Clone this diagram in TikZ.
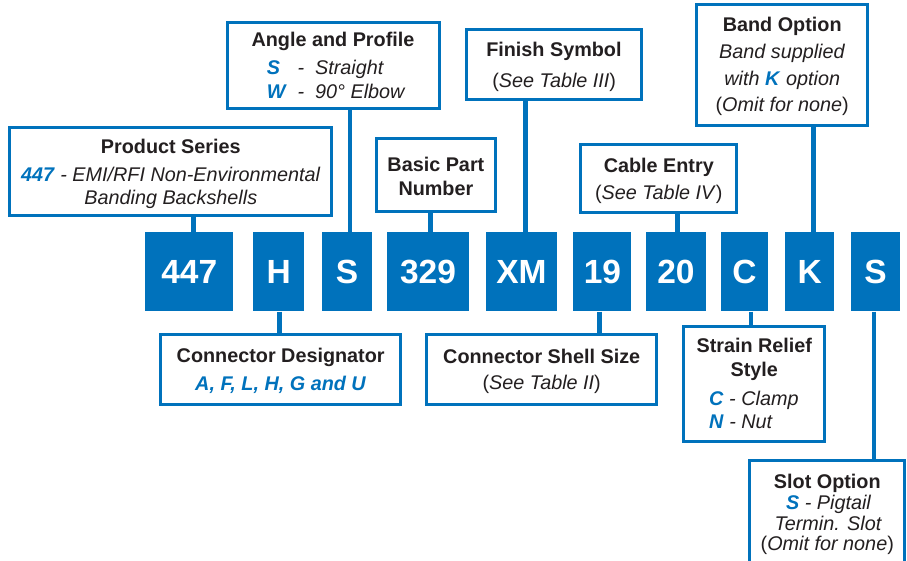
\documentclass[tikz,border=0pt]{standalone}
\usepackage{fontspec}
\setmainfont{Liberation Sans}
\definecolor{brand}{HTML}{0072BC}
\definecolor{ink}{HTML}{231F20}
\newcommand{\hl}[1]{\textcolor{brand}{\textbf{\textit{#1}}}}
\begin{document}
\begin{tikzpicture}[x=1pt,y=-1pt,
  code/.style={fill=brand, text=white, inner sep=0pt, minimum height=79.6pt,
    font=\fontsize{33.5}{36}\selectfont\bfseries},
  lab/.style={draw=brand, line width=3pt, fill=white, inner sep=0pt},
  conn/.style={draw=brand, line width=4.5pt},
  ttl/.style={anchor=base, inner sep=0pt, text=ink, font=\fontsize{19.8}{24}\selectfont\bfseries},
  txt/.style={anchor=base, inner sep=0pt, text=ink, font=\fontsize{19.8}{24}\selectfont},
]
\useasboundingbox (0,0) rectangle (907,560);
\clip (0,0) rectangle (907,560);

% code boxes
\node[code, minimum width=88pt]   (c447) at (189.3,271.5) {447};
\node[code, minimum width=51pt]   (cH)   at (278.8,271.5) {H};
\node[code, minimum width=50.6pt] (cS)   at (347,271.5)   {S};
\node[code, minimum width=82.6pt] (c329) at (428,271.5)   {329};
\node[code, minimum width=71.6pt] (cXM)  at (521.5,271.5) {XM};
\node[code, minimum width=58pt]   (c19)  at (602.4,271.5) {19};
\node[code, minimum width=59.7pt] (c20)  at (675.9,271.5) {20};
\node[code, minimum width=47.6pt] (cC)   at (744.5,271.5) {C};
\node[code, minimum width=49.3pt] (cK)   at (809.7,271.5) {K};
\node[code, minimum width=49pt]   (cS2)  at (875.5,271.5) {S};

% label boxes
\node[lab, minimum width=322pt,   minimum height=88.8pt]  (ps) at (170.8,171.4) {};
\node[lab, minimum width=211.7pt, minimum height=86.3pt]  (ap) at (333.4,65.4) {};
\node[lab, minimum width=118.7pt, minimum height=73.6pt]  (bp) at (435.9,175) {};
\node[lab, minimum width=174.7pt, minimum height=69.7pt]  (fs) at (553.9,64.7) {};
\node[lab, minimum width=156pt,   minimum height=67.7pt]  (ce) at (658.8,178.7) {};
\node[lab, minimum width=171.3pt, minimum height=121.6pt] (bo) at (782.2,65) {};
\node[lab, minimum width=240.3pt, minimum height=69.4pt]  (cd) at (280.7,369.5) {};
\node[lab, minimum width=229.5pt, minimum height=69.4pt]  (ss) at (541.7,369.5) {};
\node[lab, minimum width=141.3pt, minimum height=114.7pt] (sr) at (753.8,383.8) {};
\node[lab, minimum width=155pt,   minimum height=128pt]   (so) at (827.3,524.5) {};

% connectors
\draw[conn] ([xshift=4pt]c447.north) -- ([xshift=4pt]c447.north |- ps.south);
\draw[conn] ([xshift=3pt]cS.north) -- ([xshift=3pt]cS.north |- ap.south);
\draw[conn] ([xshift=2.7pt]c329.north) -- ([xshift=2.7pt]c329.north |- bp.south);
\draw[conn] ([xshift=4.2pt]cXM.north) -- ([xshift=4.2pt]cXM.north |- fs.south);
\draw[conn] ([xshift=1.4pt]c20.north) -- ([xshift=1.4pt]c20.north |- ce.south);
\draw[conn] ([xshift=3.6pt]cK.north) -- ([xshift=3.6pt]cK.north |- bo.south);
\draw[conn] ([xshift=0.5pt]cH.south) -- ([xshift=0.5pt]cH.south |- cd.north);
\draw[conn] ([xshift=-3.1pt]c19.south) -- ([xshift=-3.1pt]c19.south |- ss.north);
\draw[conn] ([xshift=6.5pt]cC.south) -- ([xshift=6.5pt]cC.south |- sr.north);
\draw[conn] ([xshift=-1.5pt]cS2.south) -- ([xshift=-1.5pt]cS2.south |- so.north);

% texts
\node[ttl] (ps1) at (170.8,153.3) {Product Series};
\node[txt] (ps2) at (170.8,181) {\hl{447} \textit{- EMI/RFI Non-Environmental}};
\node[txt] (ps3) at (170.8,204.3) {\textit{Banding Backshells}};

\node[ttl] (ap1) at (333,46.7) {Angle and Profile};
\node[txt, anchor=base west] (ap2) at (266.7,74.3) {\makebox[30.6pt][l]{\hl{S}}\makebox[17.7pt][l]{\textit{-}}\textit{Straight}};
\node[txt, anchor=base west] (ap3) at (266.7,98.3) {\makebox[30.6pt][l]{\hl{W}}\makebox[17.7pt][l]{\textit{-}}\textit{90° Elbow}};

\node[ttl] (bp1) at (435.9,171) {Basic Part};
\node[ttl] (bp2) at (435.9,195) {Number};

\node[ttl] (fs1) at (553.9,56.7) {Finish Symbol};
\node[txt] (fs2) at (554.2,87) {(\textit{See Table III})};

\node[ttl] (ce1) at (658.8,172.7) {Cable Entry};
\node[txt] (ce2) at (658.8,199) {(\textit{See Table IV})};

\node[ttl] (bo1) at (782.2,31.7) {Band Option};
\node[txt] (bo2) at (782.2,58.3) {\textit{Band supplied}};
\node[txt] (bo3) at (782.2,85) {\textit{with} \hl{K} \textit{option}};
\node[txt] (bo4) at (782.2,111.3) {(\textit{Omit for none})};

\node[ttl] (cd1) at (280.7,362.7) {Connector Designator};
\node[txt] (cd2) at (280.7,390) {\hl{A, F, L, H, G and U}};

\node[ttl] (ss1) at (541.7,363.3) {Connector Shell Size};
\node[txt] (ss2) at (541.7,389) {(\textit{See Table II})};

\node[ttl] (sr1) at (754.3,352.7) {Strain Relief};
\node[ttl] (sr2) at (754.3,376.7) {Style};
\node[txt, anchor=base west] (sr3) at (709,405) {\hl{C} \textit{- Clamp}};
\node[txt, anchor=base west] (sr4) at (709,428.3) {\hl{N} \textit{- Nut}};

\node[ttl] (so1) at (827.3,488.3) {Slot Option};
\node[txt] (so2) at (828.7,509.3) {\hl{S} \textit{- Pigtail}};
\node[txt] (so3) at (828.3,530) {\textit{Termin. Slot}};
\node[txt] (so4) at (827.3,550.7) {(\textit{Omit for none})};
\end{tikzpicture}
\end{document}
